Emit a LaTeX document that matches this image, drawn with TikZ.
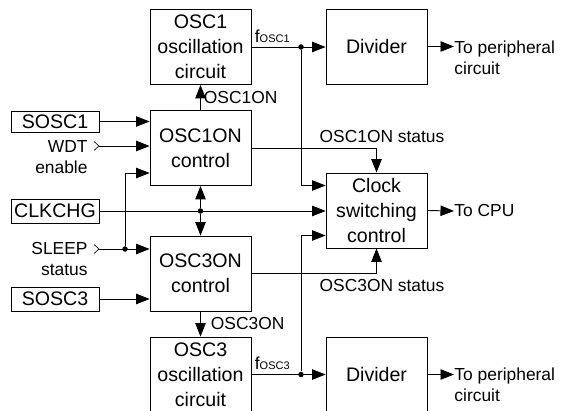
\documentclass[tikz,border=0pt]{standalone}
\usepackage{fontspec}
\setmainfont{Liberation Sans}
\usetikzlibrary{arrows.meta}
\begin{document}
\begin{tikzpicture}[x=1pt, y=-1pt, line width=0.9pt,
    blk/.style={draw, minimum width=101pt, minimum height=75pt, align=center, inner sep=0pt, font=\fontsize{19.6}{25}\selectfont},
    inbox/.style={draw, minimum width=88pt, minimum height=23pt, inner sep=0pt, font=\fontsize{19.6}{23}\selectfont},
    lbl/.style={inner sep=0pt, font=\fontsize{17.4}{21}\selectfont},
    sig/.style={-{Triangle[length=13.5pt,width=10.5pt]}},
    dot/.style={circle, fill, inner sep=0pt, minimum size=5.5pt}]

  \useasboundingbox (0,0) rectangle (561,411);
  \clip (0,0) rectangle (561,411);

  % oscillation circuits and control blocks
  \node[blk] (osc1) at (200.5,47) {OSC1\\oscillation\\circuit};
  \node[blk] (on1) at (200.5,148) {OSC1ON\\control};
  \node[blk] (on3) at (200.5,273.5) {OSC3ON\\control};
  \node[blk] (osc3) at (200.5,374.5) {OSC3\\oscillation\\circuit};

  % dividers and clock switch
  \node[blk] (div1) at (376.5,46.5) {Divider};
  \node[blk] (clk) at (376.5,210.5) {Clock\\switching\\control};
  \node[blk] (div3) at (376.5,374.5) {Divider};

  % register inputs
  \node[inbox, minimum height=21pt] (sosc1) at (55,121.5) {SOSC1};
  \node[inbox, minimum height=24pt] (clkchg) at (55,211) {CLKCHG};
  \node[inbox, minimum height=24pt] (sosc3) at (55,299) {SOSC3};

  % signal inputs
  \node[lbl, align=right, anchor=east] (wdt) at (88,157) {WDT\\enable};
  \node[lbl, align=right, anchor=east] (sleep) at (88,259.5) {SLEEP\\status};
  \coordinate (wdtin) at (99,146);
  \coordinate (slpin) at (99,249);
  \draw[line width=0.6pt] ([xshift=-5pt,yshift=4.5pt]wdtin) -- (wdtin) -- ([xshift=-5pt,yshift=-4.5pt]wdtin);
  \draw[line width=0.6pt] ([xshift=-5pt,yshift=4.5pt]slpin) -- (slpin) -- ([xshift=-5pt,yshift=-4.5pt]slpin);

  % outputs
  \node[lbl, anchor=west, align=left] (per1) at (454,57.5) {To peripheral\\circuit};
  \node[lbl, anchor=west] (cpu) at (454,211) {To CPU};
  \node[lbl, anchor=west, align=left] (per3) at (454,384.5) {To peripheral\\circuit};

  % junctions
  \node[dot] (j1) at (301,47) {};
  \node[dot] (j2) at (200.5,211) {};
  \node[dot] (j3) at (125,249) {};
  \node[dot] (j4) at (301,374.5) {};

  % control inputs
  \draw[sig] (sosc1.east) -- (sosc1.east -| on1.west);
  \draw[sig] (wdtin) -- (wdtin -| on1.west);
  \draw[sig] (j3) |- ([yshift=-25pt]on1.west);
  \draw[sig] (slpin) -- (slpin -| on3.west);
  \draw[sig] (sosc3.east) -- (sosc3.east -| on3.west);
  \draw[sig] (clkchg.east) -- (clkchg.east -| clk.west);
  \draw[sig] (j2) -- (on1.south);
  \draw[sig] (j2) -- (on3.north);

  % enables
  \draw[sig] (on1.north) -- (osc1.south) node[lbl, midway, anchor=west, xshift=3pt] {OSC1ON};
  \draw[sig] (on3.south) -- (osc3.north) node[lbl, midway, anchor=west, xshift=10pt] {OSC3ON};

  % clocks
  \draw[sig] (osc1.east) -- (osc1.east -| div1.west)
    node[lbl, pos=0, anchor=south west, xshift=3pt, yshift=4pt] {f\fontsize{11}{11}\selectfont OSC1};
  \draw[sig] (osc3.east) -- (osc3.east -| div3.west)
    node[lbl, pos=0, anchor=south west, xshift=3pt, yshift=4pt] {f\fontsize{11}{11}\selectfont OSC3};
  \draw[sig] (j1) |- ([yshift=25pt]clk.west);
  \draw[sig] (j4) |- ([yshift=-25pt]clk.west);

  % status
  \draw[sig] (on1.east) -| (clk.north);
  \draw[sig] (on3.east) -| (clk.south);
  \node[lbl] (st1) at (382,137) {OSC1ON status};
  \node[lbl] (st3) at (382,286) {OSC3ON status};

  \draw[sig] (div1.east) -- (div1.east -| per1.west);
  \draw[sig] (clk.east) -- (cpu.west);
  \draw[sig] (div3.east) -- (div3.east -| per3.west);
\end{tikzpicture}
\end{document}
